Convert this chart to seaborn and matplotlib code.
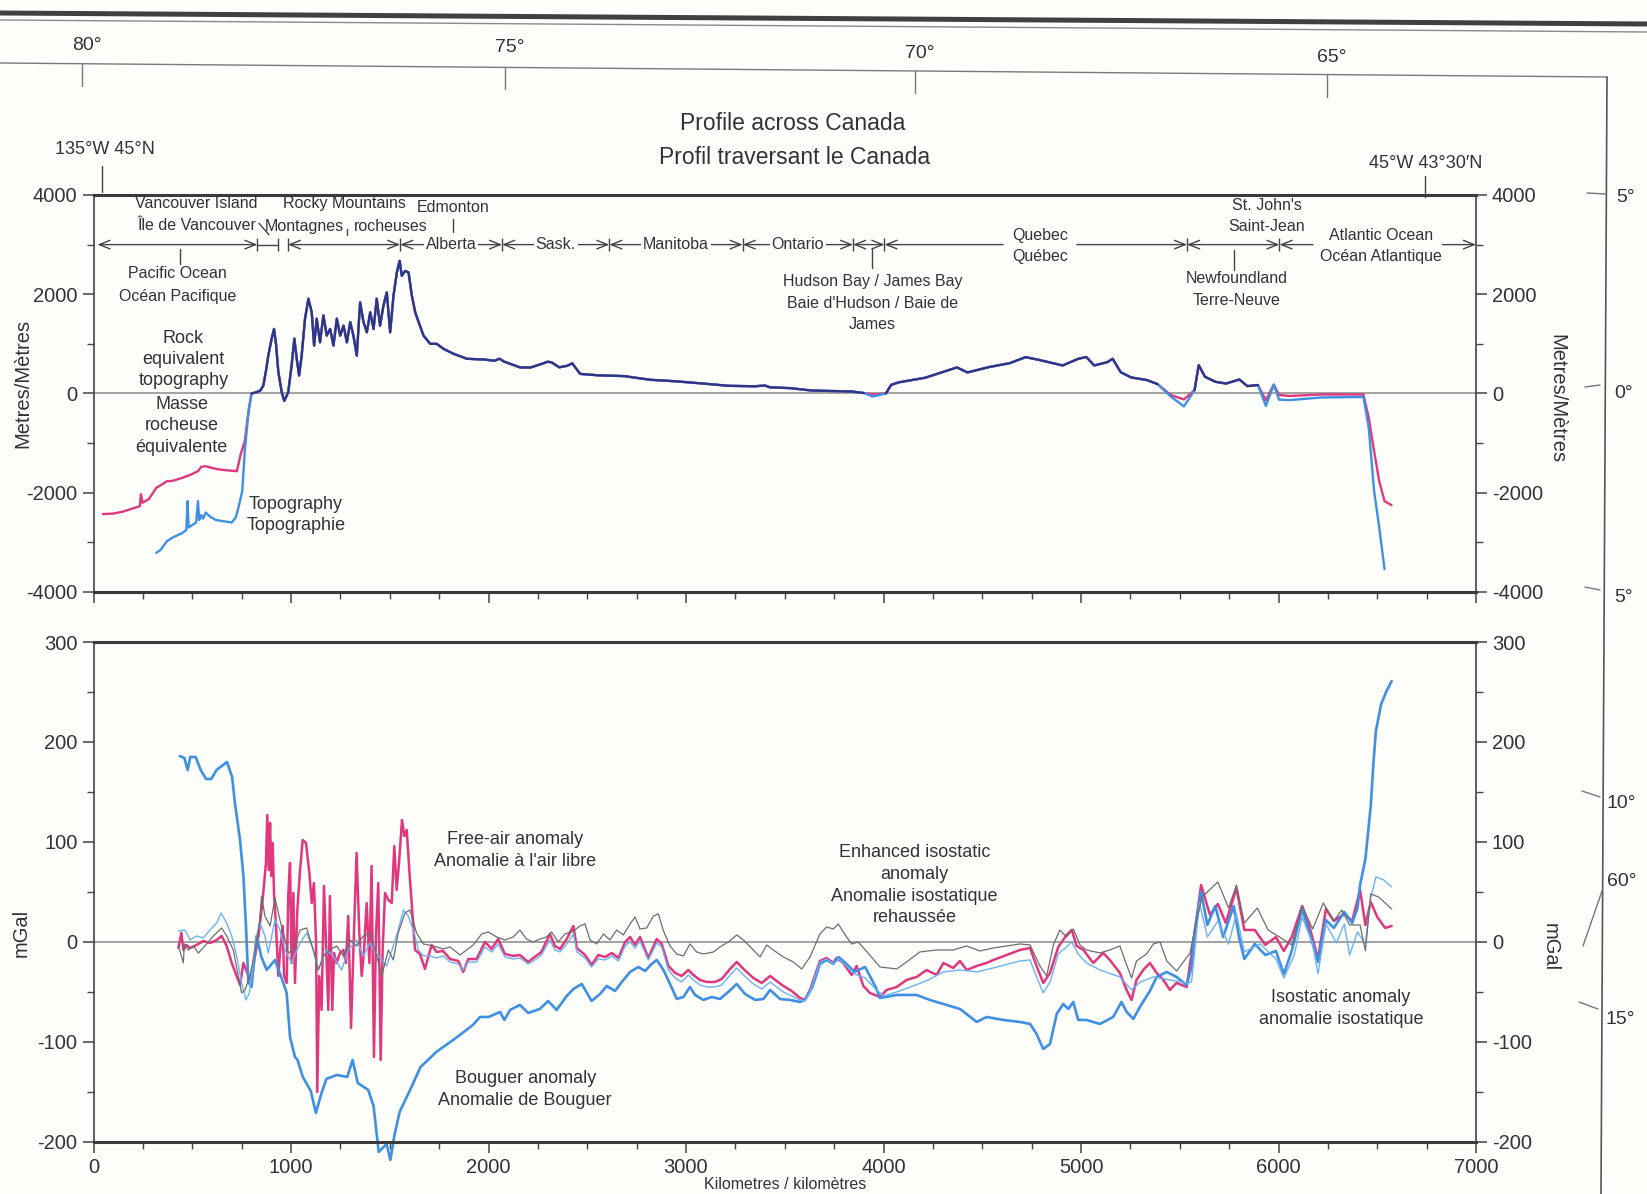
import numpy as np
import pandas as pd
import matplotlib
matplotlib.use("Agg")
import matplotlib.pyplot as plt
from matplotlib.ticker import MultipleLocator
import seaborn as sns

sns.set_style("ticks")
plt.rcParams["font.family"] = ["Liberation Sans", "DejaVu Sans"]
plt.rcParams["axes.unicode_minus"] = False

# ------------------------------------------------------------------ data
# Top panel (metres) : (km, value)
pacific_topography = [(318, -3210), (340, -3150), (371, -2980), (397, -2910), (450, -2810), (470, -2750),
                      (476, -2170), (482, -2700), (500, -2650), (520, -2600), (529, -2170), (535, -2550),
                      (545, -2450), (555, -2520), (568, -2400), (590, -2480), (620, -2550), (661, -2575),
                      (700, -2600), (720, -2500), (734, -2300), (753, -1970), (766, -1160), (787, -290)]
pacific_rock_equiv = [(48, -2430), (100, -2420), (150, -2380), (213, -2300), (235, -2270), (240, -2030),
                      (248, -2200), (280, -2130), (318, -1900), (340, -1850), (371, -1770), (400, -1760),
                      (450, -1700), (490, -1640), (529, -1565), (545, -1480), (568, -1465), (600, -1500),
                      (634, -1530), (680, -1550), (726, -1565), (745, -1230), (766, -960), (780, -500)]
land_topography = [(800, 0), (826, 26), (845, 60), (860, 160), (875, 500), (885, 763), (902, 1105), (914, 1300),
                   (924, 1000), (936, 430), (953, 26), (966, -150), (986, 26), (1003, 563), (1017, 1105),
                   (1029, 700), (1041, 362), (1054, 763), (1071, 1508), (1088, 1910), (1105, 1635), (1117, 965),
                   (1130, 1508), (1147, 1031), (1164, 1575), (1181, 1166), (1198, 1300), (1215, 965),
                   (1232, 1508), (1249, 1166), (1266, 1367), (1283, 1031), (1300, 1440), (1316, 1166),
                   (1333, 763), (1350, 1835), (1367, 1440), (1384, 1233), (1401, 1635), (1418, 1300),
                   (1434, 1910), (1451, 1367), (1468, 1770), (1485, 2037), (1502, 1233), (1519, 1970),
                   (1536, 2440), (1550, 2673), (1561, 2370), (1578, 2470), (1595, 2440), (1612, 1970),
                   (1629, 1635), (1646, 1440), (1671, 1166), (1705, 1000), (1738, 1000), (1772, 900),
                   (1823, 800), (1890, 700), (1940, 690), (1977, 685), (2030, 660), (2056, 700), (2080, 640),
                   (2161, 524), (2213, 524), (2266, 592), (2300, 640), (2319, 628), (2358, 527), (2400, 560),
                   (2424, 608), (2464, 395), (2556, 366), (2687, 350), (2819, 276), (2950, 245), (3082, 202),
                   (3214, 155), (3345, 145), (3400, 160), (3424, 125), (3529, 107), (3635, 60), (3700, 54),
                   (3838, 40), (3900, 10), (3945, -60), (4012, 0), (4039, 175), (4078, 225), (4212, 318),
                   (4319, 457), (4372, 525), (4425, 424), (4533, 531), (4640, 612), (4720, 733), (4800, 665),
                   (4907, 565), (4987, 700), (5027, 735), (5067, 565), (5134, 632), (5160, 700), (5201, 430),
                   (5254, 323), (5334, 270), (5388, 188), (5454, -60), (5521, -260), (5575, 67), (5596, 570),
                   (5628, 336), (5681, 235), (5735, 200), (5802, 282), (5842, 148), (5896, 170), (5936, -250),
                   (5976, 178), (6003, -124), (6056, -134), (6216, -80), (6403, -70), (6430, -70),
                   (6457, -690), (6484, -1965), (6510, -2700), (6537, -3540)]
# rock-equivalent differs from topography only under water
rock_equiv_under_water = {3945: -20, 5454: -30, 5521: -120, 5936: -140, 6003: -30, 6056: -50,
                          6216: -20, 6403: -20, 6430: -20, 6457: -490, 6484: -1160, 6510: -1770,
                          6537: -2170}
rock_equiv_end = [(6572, -2250)]

# Bottom panel (mGal) : (km, value)
bouguer = [(437, 186), (460, 184), (477, 172), (490, 185), (517, 185), (543, 172), (570, 163), (596, 163),
           (623, 172), (676, 180), (702, 165), (716, 139), (742, 102), (759, 66), (772, 16), (784, -40),
           (800, -45), (826, 6), (850, -15), (877, -28), (919, -18), (961, -41), (978, -51), (995, -95),
           (1020, -115), (1033, -118), (1060, -135), (1100, -149), (1126, -171), (1153, -152), (1179, -137),
           (1232, -133), (1285, -135), (1312, -118), (1338, -141), (1391, -148), (1418, -164), (1431, -187),
           (1444, -210), (1484, -202), (1503, -218), (1524, -193), (1550, -170), (1603, -148), (1656, -125),
           (1736, -110), (1842, -95), (1921, -83), (1957, -75), (2001, -75), (2059, -70), (2080, -78),
           (2109, -68), (2159, -63), (2201, -71), (2260, -67), (2302, -59), (2345, -68), (2396, -54),
           (2430, -47), (2472, -42), (2522, -59), (2565, -52), (2598, -44), (2641, -49), (2675, -40),
           (2717, -30), (2759, -25), (2793, -29), (2826, -22), (2852, -18), (2886, -28), (2919, -42),
           (2953, -57), (2987, -55), (3020, -45), (3046, -53), (3088, -58), (3130, -55), (3172, -57),
           (3214, -50), (3257, -42), (3299, -52), (3350, -58), (3392, -57), (3426, -48), (3476, -57),
           (3527, -58), (3577, -60), (3602, -58), (3640, -45), (3678, -22), (3712, -18), (3746, -22),
           (3773, -15), (3813, -22), (3853, -30), (3907, -25), (3960, -45), (3982, -56), (4012, -55),
           (4067, -53), (4168, -53), (4235, -58), (4320, -63), (4387, -67), (4472, -80), (4522, -75),
           (4607, -78), (4691, -80), (4742, -82), (4775, -92), (4809, -107), (4843, -102), (4877, -72),
           (4910, -62), (4936, -67), (4961, -60), (4986, -78), (5028, -78), (5096, -82), (5163, -75),
           (5205, -60), (5231, -70), (5265, -77), (5298, -65), (5349, -49), (5383, -35), (5434, -30),
           (5484, -35), (5535, -43), (5560, -25), (5577, 12), (5608, 50),
           (5640, 17), (5680, 36), (5720, 5), (5773, 36), (5800, 5), (5827, -17), (5880, -2), (5933, -13),
           (5987, -9), (6027, -32), (6067, -9), (6120, 33), (6160, 7), (6200, -20), (6240, 22), (6280, 14),
           (6333, 30), (6373, 19), (6400, 34), (6413, 57), (6440, 83), (6467, 136), (6480, 177),
           (6493, 211), (6520, 238), (6547, 251), (6573, 261)]
free_air = [(430, -6), (445, 9), (455, -8), (470, -3), (489, -6), (522, -3), (556, 1), (590, -1), (624, 2),
            (649, 6), (674, -4), (700, -21), (725, -34), (742, -43), (759, -21), (779, -31), (796, -38),
            (818, -14), (835, 6), (851, 32), (863, 56), (873, 79), (880, 127), (887, 72), (894, 119),
            (900, 66), (907, 99), (914, 49), (924, 16), (936, -34), (944, -11), (958, 16), (965, -34),
            (978, -41), (986, 46), (995, 79), (1003, -21), (1012, 49), (1020, -41), (1032, 32), (1046, 72),
            (1059, 102), (1076, 99), (1093, 69), (1105, 39), (1116, 59), (1127, -1), (1133, -150),
            (1143, -34), (1155, -68), (1167, 56), (1177, -1), (1189, -68), (1197, 46), (1209, -68),
            (1218, -11), (1231, -21), (1248, -11), (1265, -8), (1278, -21), (1290, 26), (1304, -86),
            (1316, -8), (1332, 89), (1346, 9), (1358, -34), (1370, -8), (1383, 39), (1397, -21), (1408, 76),
            (1420, -115), (1430, 6), (1442, 59), (1454, -118), (1464, -8), (1476, 49), (1493, 42),
            (1510, 39), (1523, 96), (1535, 52), (1548, 82), (1562, 122), (1574, 106), (1586, 112),
            (1599, 72), (1611, 39), (1628, -8), (1653, -12), (1678, -27), (1712, -3), (1737, -10),
            (1770, -9), (1805, -17), (1847, -19), (1872, -30), (1898, -17), (1940, -17), (1982, 0),
            (2016, -7), (2049, 3), (2083, -12), (2125, -14), (2159, -13), (2201, -20), (2234, -15),
            (2268, -10), (2311, 8), (2336, -4), (2362, -7), (2396, 3), (2430, 16), (2447, -6), (2489, -13),
            (2522, -23), (2556, -13), (2590, -15), (2624, -11), (2658, -16), (2692, 0), (2717, 5),
            (2742, -3), (2767, 5), (2809, -16), (2852, 3), (2877, -2), (2911, -24), (2945, -31),
            (2978, -34), (3012, -28), (3037, -33), (3071, -38), (3105, -40), (3147, -40), (3181, -37),
            (3223, -27), (3257, -20), (3291, -27), (3341, -36), (3384, -41), (3426, -34), (3459, -39),
            (3493, -44), (3535, -49), (3577, -56), (3602, -58), (3628, -48), (3678, -19), (3712, -16),
            (3746, -21), (3762, -16), (3796, -21), (3839, -33), (3864, -24), (3898, -44), (3931, -51),
            (3982, -55), (4016, -48), (4067, -45), (4117, -38), (4168, -35), (4218, -28), (4269, -33),
            (4303, -21), (4353, -26), (4387, -19), (4421, -28), (4472, -24), (4522, -21), (4556, -18),
            (4624, -13), (4691, -8), (4742, -6), (4775, -24), (4809, -41), (4843, -31), (4885, -5),
            (4927, 7), (4953, 12), (4978, -4), (5012, -8), (5062, -21), (5113, -11), (5146, -18),
            (5197, -31), (5231, -48), (5256, -58), (5281, -38), (5315, -28), (5349, -21), (5383, -31),
            (5417, -38), (5450, -48), (5484, -41), (5535, -45), (5568, -1), (5608, 57), (5653, 27),
            (5693, 38), (5733, 19), (5787, 54), (5827, 12), (5880, 12), (5933, -3), (5987, 5), (6027, -9),
            (6067, 5), (6120, 36), (6160, 13), (6200, -17), (6240, 33), (6280, 21), (6333, 28), (6373, 21),
            (6413, 52), (6440, 17), (6467, 40), (6500, 25), (6540, 14), (6573, 16)]
isostatic = [(430, 11), (463, 12), (489, 2), (522, 6), (556, 4), (590, 12), (624, 19), (646, 29), (674, 19),
             (700, 6), (725, -14), (750, -41), (772, -58), (789, -51), (809, -21), (826, 6), (843, 19),
             (868, 6), (885, -11), (919, 22), (944, 12), (970, -8), (1003, -21), (1046, -1), (1079, 9),
             (1113, -8), (1138, -28), (1180, -8), (1214, -14), (1256, -28), (1290, -8), (1332, 2),
             (1366, -14), (1400, -1), (1442, -14), (1484, -24), (1518, -4), (1543, 12), (1569, 32),
             (1594, 26), (1619, 12), (1645, -8), (1670, -14), (1704, -14), (1737, -16), (1770, -14),
             (1805, -20), (1847, -22), (1872, -28), (1898, -20), (1940, -20), (1982, -5), (2016, -10),
             (2049, -2), (2083, -15), (2125, -17), (2159, -16), (2201, -22), (2234, -18), (2268, -13),
             (2311, 2), (2336, -8), (2362, -10), (2396, -2), (2430, 8), (2447, -10), (2489, -16),
             (2522, -25), (2556, -17), (2590, -18), (2624, -14), (2658, -19), (2692, -4), (2717, 0),
             (2742, -6), (2767, 1), (2809, -18), (2852, -1), (2877, -5), (2911, -28), (2945, -36),
             (2978, -40), (3012, -33), (3037, -38), (3071, -43), (3105, -45), (3147, -45), (3181, -43),
             (3223, -33), (3257, -26), (3291, -33), (3341, -42), (3384, -47), (3426, -40), (3459, -45),
             (3493, -50), (3535, -54), (3577, -58), (3602, -59), (3628, -50), (3678, -20), (3712, -17),
             (3746, -22), (3773, -17), (3813, -24), (3853, -32), (3907, -36), (3960, -47), (4000, -54),
             (4067, -50), (4150, -44), (4227, -38), (4303, -30), (4387, -28), (4472, -30), (4556, -26),
             (4691, -19), (4742, -18), (4775, -35), (4809, -51), (4843, -40), (4885, -12), (4927, -5),
             (4953, 0), (4985, -12), (5028, -21), (5096, -28), (5197, -35), (5256, -48), (5300, -40),
             (5366, -35), (5450, -38), (5535, -41), (5560, -40), (5600, 39),
             (5640, 5), (5693, 21), (5747, -2), (5787, 28), (5827, -10), (5907, -2), (5987, -17),
             (6027, -36), (6080, -13), (6120, 25), (6173, -2), (6200, -32), (6240, 18), (6293, -1),
             (6333, 18), (6360, -13), (6400, 10), (6440, -2), (6467, 44), (6493, 65), (6533, 62), (6573, 55)]
enhanced_isostatic = [(430, -4), (455, -21), (460, -2), (480, -8), (506, -4), (531, -11), (564, -4), (607, 6),
                      (649, 14), (674, 6), (708, -8), (733, -34), (750, -51), (767, -48), (792, -34), (818, -8),
                      (840, 19), (851, 46), (868, 26), (894, 16), (919, 44), (944, 22), (965, 6), (986, -11),
                      (1012, -8), (1046, 12), (1079, 14), (1113, -8), (1138, -28), (1164, -14), (1197, -8),
                      (1231, -4), (1265, -14), (1299, 2), (1332, -4), (1366, 6), (1400, 9), (1434, -14),
                      (1459, -34), (1493, -8), (1518, -18), (1543, 9), (1577, 29), (1602, 32), (1636, 9),
                      (1670, -2), (1720, -4), (1771, -7), (1805, -5), (1856, -13), (1889, -8), (1923, -3),
                      (1965, 8), (1999, 10), (2041, 5), (2083, 2), (2125, 5), (2159, 12), (2192, 3), (2226, 0),
                      (2260, 3), (2294, 5), (2319, 10), (2353, 0), (2387, 8), (2430, 11), (2463, 16),
                      (2489, 18), (2514, 2), (2548, -2), (2582, 8), (2615, 2), (2649, 12), (2683, 7),
                      (2717, 18), (2742, 25), (2767, 13), (2801, 14), (2835, 26), (2860, 28), (2886, 11),
                      (2919, -4), (2953, -12), (2987, -14), (3020, -2), (3054, -10), (3088, -12), (3139, -10),
                      (3172, -5), (3214, 0), (3257, 7), (3291, 2), (3341, -8), (3375, -15), (3409, -3),
                      (3442, -8), (3493, -15), (3543, -20), (3586, -27), (3628, -15), (3678, 8), (3712, 15),
                      (3746, 13), (3771, 18), (3813, 5), (3839, -2), (3872, 0), (3917, -10), (3982, -25),
                      (4067, -27), (4117, -20), (4184, -10), (4269, -8), (4353, -8), (4421, -4), (4488, -9),
                      (4556, -6), (4624, -4), (4691, -2), (4742, -3), (4792, -24), (4826, -34), (4860, -3),
                      (4893, 12), (4927, 5), (4961, 13), (4995, -3), (5028, -8), (5096, -11), (5146, -8),
                      (5197, -4), (5231, -23), (5256, -36), (5281, -19), (5332, -12), (5366, -2), (5400, 0),
                      (5434, -19), (5484, -29), (5518, -20), (5552, -11), (5577, 14), (5613, 45),
                      (5693, 60), (5747, 34), (5787, 57),
                      (5827, 19), (5893, 34), (5947, 12), (6013, 4), (6067, -3), (6120, 36), (6173, 13),
                      (6227, 39), (6280, 21), (6320, 32), (6360, 17), (6413, 17), (6440, -9), (6467, 48),
                      (6507, 45), (6573, 33)]

# region bar along the top of the profile (km)
region_bounds = [830, 936, 984, 1553, 2069, 2612, 3287, 3846, 4005, 5537, 6005]
inline_regions = [("Alberta", 1553, 2069), ("Sask.", 2069, 2612), ("Manitoba", 2612, 3287),
                  ("Ontario", 3287, 3846)]

# ------------------------------------------------------------------ styles
BG = "#fdfdf9"
INK = "#333333"
BLUE = "#3f8fe3"
MAGENTA = "#e0387f"
LIGHTBLUE = "#6cb2f2"
GREY = "#6e6e6e"
NAVY = "#2d3584"


def frame(pairs, name):
    km, val = zip(*pairs)
    return pd.DataFrame({"km": km, name: val})


land = frame(land_topography, "topo")
land["rock"] = [rock_equiv_under_water.get(k, v) for k, v in zip(land["km"], land["topo"])]
topo_df = pd.concat([frame(pacific_topography, "m"), land[["km", "topo"]].rename(columns={"topo": "m"})])
rock_df = pd.concat([frame(pacific_rock_equiv, "m"), land[["km", "rock"]].rename(columns={"rock": "m"}),
                     frame(rock_equiv_end, "m")])
same = land["topo"] == land["rock"]
land_same = land[same].copy()
land_same["seg"] = (~same).cumsum()[same]

fig = plt.figure(figsize=(16.47, 11.94), dpi=100)
fig.patch.set_facecolor(BG)
L, W = 93.5 / 1647, (1476 - 93.5) / 1647
ax1 = fig.add_axes([L, 0.5042, W, 0.3325])
ax2 = fig.add_axes([L, 0.0436, W, 0.4187])

# top panel lines
sns.lineplot(data=rock_df, x="km", y="m", ax=ax1, color=MAGENTA, lw=1.7, estimator=None, sort=False)
sns.lineplot(data=topo_df, x="km", y="m", ax=ax1, color=BLUE, lw=1.7, estimator=None, sort=False)
sns.lineplot(data=land_same, x="km", y="topo", units="seg", ax=ax1, color=NAVY, lw=1.6, estimator=None,
             sort=False)

# bottom panel lines
sns.lineplot(data=frame(free_air, "g"), x="km", y="g", ax=ax2, color=MAGENTA, lw=1.8, estimator=None)
sns.lineplot(data=frame(bouguer, "g"), x="km", y="g", ax=ax2, color=BLUE, lw=1.9, estimator=None)
ax2.lines[-1].set_clip_on(False)
sns.lineplot(data=frame(isostatic, "g"), x="km", y="g", ax=ax2, color=LIGHTBLUE, lw=1.0, estimator=None)
sns.lineplot(data=frame(enhanced_isostatic, "g"), x="km", y="g", ax=ax2, color=GREY, lw=0.9, estimator=None)

for ax in (ax1, ax2):
    ax.set_facecolor("none")
    ax.set_xlim(0, 7000)
    ax.axhline(0, color="#8a8a8a", lw=1.1, zorder=0.5)
    ax.set_xlabel("")
    ax.set_ylabel("")
    for s in ("top", "bottom"):
        ax.spines[s].set_linewidth(2.2)
        ax.spines[s].set_color("#3a3a3a")
    for s in ("left", "right"):
        ax.spines[s].set_linewidth(1.2)
        ax.spines[s].set_color("#444444")
    ax.set_xticks(range(0, 7001, 1000))
    ax.xaxis.set_minor_locator(MultipleLocator(250))
    ax.tick_params(which="both", direction="out", colors="#444444", labelcolor=INK, labelsize=14.5,
                   left=True, right=True, labelleft=True, labelright=True, top=False)
    ax.tick_params(which="major", length=8, width=1.1)
    ax.tick_params(which="minor", length=5, width=1.0)

ax1.set_ylim(-4000, 4000)
ax1.set_yticks([-4000, -2000, 0, 2000, 4000])
ax1.yaxis.set_minor_locator(MultipleLocator(1000))
ax1.tick_params(axis="x", labelbottom=False)
ax2.set_ylim(-200, 300)
ax2.set_yticks([-200, -100, 0, 100, 200, 300])
ax2.yaxis.set_minor_locator(MultipleLocator(50))

# ------------------------------------------------------------------ region bar
Y = 3000
arrow = dict(arrowstyle="->,head_length=0.55,head_width=0.22", lw=1.0, color="#444444",
             shrinkA=0, shrinkB=0, mutation_scale=14)
arrow2 = dict(arrow, arrowstyle="<->,head_length=0.55,head_width=0.22")
ax1.vlines(region_bounds, Y - 130, Y + 130, color="#444444", lw=1.0)
ax1.annotate("", xy=(20, Y), xytext=(830, Y), arrowprops=arrow2)
ax1.plot([830, 936], [Y, Y], color="#444444", lw=1.0)
for a, b in [(984, 1553), (1553, 2069), (2069, 2612), (2612, 3287), (3287, 3846), (3846, 4005), (5537, 6005)]:
    ax1.annotate("", xy=(a, Y), xytext=(b, Y), arrowprops=arrow2)
for a, g0, g1, b in [(4005, 4606, 4979, 5537), (6005, 6175, 6830, 7000)]:
    ax1.annotate("", xy=(a, Y), xytext=(g0, Y), arrowprops=arrow)
    ax1.annotate("", xy=(b, Y), xytext=(g1, Y), arrowprops=arrow, annotation_clip=False)

fs_r = 11.5
for name, a, b in inline_regions:
    ax1.text((a + b) / 2, Y, name, ha="center", va="center", fontsize=fs_r, color=INK, zorder=5,
             bbox=dict(boxstyle="square,pad=0.12", fc=BG, ec="none"))

labels_top = [("Vancouver Island", 521, 3830), ("Île de Vancouver", 521, 3384),
              ("Rocky Mountains", 1271, 3830), ("Montagnes", 1066, 3363), ("rocheuses", 1505, 3363),
              ("Edmonton", 1819, 3745), ("Pacific Ocean", 426, 2408), ("Océan Pacifique", 426, 1962),
              ("Hudson Bay / James Bay", 3945, 2259), ("Baie d'Hudson / Baie de", 3945, 1813),
              ("James", 3945, 1389), ("Quebec", 4793, 3193), ("Québec", 4793, 2767),
              ("St. John's", 5939, 3788), ("Saint-Jean", 5939, 3363), ("Newfoundland", 5787, 2323),
              ("Terre-Neuve", 5787, 1877), ("Atlantic Ocean", 6521, 3193), ("Océan Atlantique", 6521, 2768)]
for t, x, y in labels_top:
    ax1.text(x, y, t, ha="center", va="center", fontsize=fs_r, color=INK)

connectors = [((437, 437), (2920, 2600)), ((1819, 1819), (3520, 3260)), ((1285, 1285), (3320, 3200)),
              ((838, 888), (3430, 3200)), ((3941, 3941), (2930, 2520)), ((5777, 5777), (2900, 2480))]
for xs, ys in connectors:
    ax1.plot(xs, ys, color="#444444", lw=1.0)

fs_b = 13
for t, x, y in [("Rock", 455, 1112), ("equivalent", 455, 687), ("topography", 455, 263),
                ("Masse", 447, -225), ("rocheuse", 447, -650), ("équivalente", 447, -1096),
                ("Topography", 1024, -2242), ("Topographie", 1027, -2667)]:
    ax1.text(x, y, t, ha="center", va="center", fontsize=fs_b, color=INK)

for t, x, y in [("Free-air anomaly", 2133, 102), ("Anomalie à l'air libre", 2133, 80),
                ("Bouguer anomaly", 2186, -137), ("Anomalie de Bouguer", 2186, -159),
                ("Enhanced isostatic", 4157, 89), ("anomaly", 4157, 67), ("Anomalie isostatique", 4157, 45),
                ("rehaussée", 4157, 24), ("Isostatic anomaly", 6316, -56), ("anomalie isostatique", 6316, -78)]:
    ax2.text(x, y, t, ha="center", va="center", fontsize=fs_b, color=INK)

# ------------------------------------------------------------------ map margin (pixel overlay)
ov = fig.add_axes([0, 0, 1, 1])
ov.set_xlim(0, 1647)
ov.set_ylim(1194, 0)
ov.axis("off")
ov.patch.set_alpha(0)

ov.plot([0, 1647], [13, 24], color="#404040", lw=3.6)
ov.plot([0, 1647], [20, 32], color="#8a8a8a", lw=1.0)
ov.plot([0, 1607], [63, 77], color="#7a7a7a", lw=1.0)
for x, lab, ty in [(82, "80°", 46), (505, "75°", 48), (915, "70°", 53), (1327, "65°", 58)]:
    y0 = 63 + x * 14 / 1607
    ov.plot([x, x], [y0, y0 + 22], color="#777777", lw=1.0)
    ov.text(x + 5, ty, lab, ha="center", va="center", fontsize=14, color=INK)
ov.plot([1607, 1601], [77, 1194], color="#555555", lw=1.2)
for (x0, y0, x1, y1) in [(1587, 193, 1606, 194), (1585, 387, 1600, 385), (1585, 587, 1600, 590),
                         (1582, 791, 1600, 797), (1583, 946, 1602, 891), (1579, 1002, 1598, 1009)]:
    ov.plot([x0, x1], [y0, y1], color="#777777", lw=1.0)
for x, y, t in [(1626, 197, "5°"), (1624, 394, "0°"), (1624, 597, "5°"), (1621, 804, "10°"),
                (1622, 882, "60°"), (1620, 1019, "15°")]:
    ov.text(x, y, t, ha="center", va="center", fontsize=14, color=INK)

ov.text(793, 123, "Profile across Canada", ha="center", va="center", fontsize=16.5, color=INK)
ov.text(795, 157, "Profil traversant le Canada", ha="center", va="center", fontsize=16.5, color=INK)
ov.text(105, 149, "135°W 45°N", ha="center", va="center", fontsize=13, color=INK)
ov.plot([102, 102], [166, 192], color="#444444", lw=1.0)
ov.text(1426, 164, "45°W 43°30′N", ha="center", va="center", fontsize=13, color=INK)
ov.plot([1425, 1425], [176, 197], color="#444444", lw=1.0)

ov.text(23, 383, "Metres/Mètres", rotation=90, ha="center", va="center", fontsize=14.5, color=INK)
ov.text(1557, 399, "Metres/Mètres", rotation=270, ha="center", va="center", fontsize=14.5, color=INK)
ov.text(21, 933, "mGal", rotation=90, ha="center", va="center", fontsize=14.5, color=INK)
ov.text(1550, 947, "mGal", rotation=270, ha="center", va="center", fontsize=14.5, color=INK)
ov.text(785, 1192, "Kilometres / kilomètres", ha="center", va="bottom", fontsize=11.5, color=INK)

fig.savefig("out.png", dpi=100, facecolor=BG)
